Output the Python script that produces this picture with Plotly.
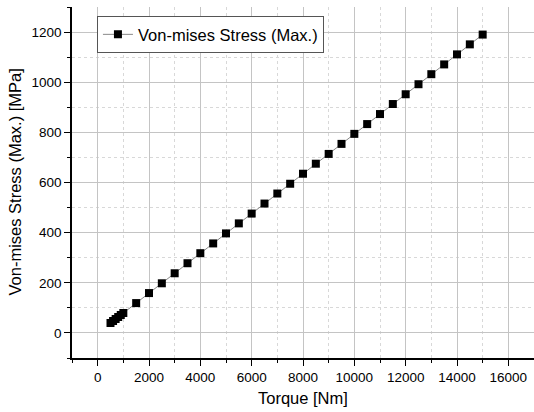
import plotly.graph_objects as go

torque = [500, 600, 700, 800, 900, 1000, 1500, 2000, 2500, 3000, 3500, 4000, 4500, 5000,
          5500, 6000, 6500, 7000, 7500, 8000, 8500, 9000, 9500, 10000, 10500, 11000,
          11500, 12000, 12500, 13000, 13500, 14000, 14500, 15000]
stress = [39.7, 47.6, 55.6, 63.5, 71.5, 79.4, 119, 159, 198, 238, 278, 318, 357, 397,
          437, 476, 516, 556, 595, 635, 675, 714, 754, 794, 833, 873, 913, 952, 992,
          1032, 1071, 1111, 1151, 1190]
series_name = "Von-mises Stress (Max.)"
x_title = "Torque [Nm]"
y_title = "Von-mises Stress (Max.) [MPa]"

font = "Liberation Sans"

fig = go.Figure()
fig.add_trace(go.Scatter(
    x=torque, y=stress, mode="lines+markers", name=series_name,
    line=dict(color="#888888", width=1),
    marker=dict(symbol="square", size=8, color="black"),
))

axis_common = dict(
    showline=True, linecolor="black", linewidth=1.5, mirror=False,
    ticks="outside", ticklen=6, tickwidth=1.2, tickcolor="black",
    showgrid=True, gridcolor="#c4c4c4", gridwidth=1, zeroline=False,
    tickfont=dict(family=font, size=13.5, color="black"),
    tickformat="d", automargin=False,
)

fig.update_layout(
    width=534, height=412,
    margin=dict(l=72, r=0, t=7, b=54),
    plot_bgcolor="white", paper_bgcolor="white",
    font=dict(family=font, color="black"),
    showlegend=True,
    legend=dict(x=0.054, y=0.974, xanchor="left", yanchor="top",
                bordercolor="#555555", borderwidth=1, bgcolor="white",
                font=dict(family=font, size=16.5, color="black"),
                tracegroupgap=0),
    xaxis=dict(range=[-1000, 17000], dtick=2000, tick0=0,
               minor=dict(dtick=1000, ticks="outside", ticklen=3, tickcolor="black",
                          showgrid=True, gridcolor="#d8d8d8", griddash="dot"),
               **axis_common),
    yaxis=dict(range=[-100, 1300], dtick=200, tick0=0,
               minor=dict(dtick=100, ticks="outside", ticklen=3, tickcolor="black",
                          showgrid=True, gridcolor="#d8d8d8", griddash="dot"),
               **axis_common),
    annotations=[
        dict(text=x_title, xref="paper", yref="paper", x=0.5, y=0, yshift=-40,
             xanchor="center", yanchor="middle", showarrow=False,
             font=dict(family=font, size=16.5, color="black")),
        dict(text=y_title, xref="paper", yref="paper", x=0, y=0.5, xshift=-58,
             xanchor="center", yanchor="middle", showarrow=False, textangle=-90,
             font=dict(family=font, size=16.5, color="black")),
    ],
)

fig.write_html("out.html", config={"displayModeBar": False},
               post_script="document.body.style.margin='0';")
